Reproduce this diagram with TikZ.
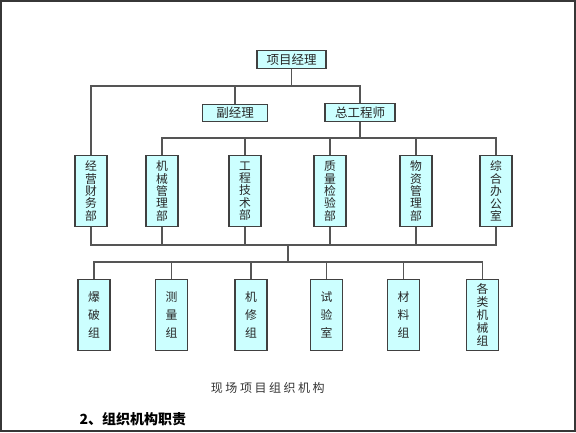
\documentclass[tikz,border=0pt]{standalone}
\usepackage{fontspec}
\setmainfont{Noto Sans CJK SC}
\usepackage{xcolor}
\usetikzlibrary{positioning}
\definecolor{boxfill}{RGB}{204, 255, 255}
\definecolor{boxline}{RGB}{64, 64, 64}
\definecolor{wireline}{RGB}{85, 85, 85}
\definecolor{captext}{RGB}{51, 51, 51}
\definecolor{framecol}{RGB}{55, 55, 55}

\begin{document}
\begin{tikzpicture}[x=1pt, y=-1pt,
  box/.style={draw=boxline, fill=boxfill, line width=1.1pt, inner sep=0pt,
        text=black!85, font=\fontsize{12.5}{12.5}\selectfont},
  hbox/.style={box, minimum height=17.5pt},
  vbox/.style={box, minimum width=32pt, minimum height=71.5pt, text width=12pt,
        align=center, font=\fontsize{11.8}{12.4}\selectfont},
  team/.style={font=\fontsize{11.8}{17.8}\selectfont},
  wire/.style={draw=wireline, line width=1.2pt}]
  \useasboundingbox (0,0) rectangle (576,432);
  \draw[line width=2pt, framecol] (1,1) rectangle (575,431);

  % management
  \node[hbox, minimum width=69pt] (pm) at (291.5,59.5) {项目经理};
  \node[hbox, minimum width=65pt] (dpm) at (235,113) {副经理};
  \node[hbox, minimum width=70pt] (ce) at (360,112.5) {总工程师};

  % departments
  \node[vbox] (jy) at (91,191) {经\\营\\财\\务\\部};
  \node[vbox] (jx) at (162,191) {机\\械\\管\\理\\部};
  \node[vbox] (gc) at (245,191) {工\\程\\技\\术\\部};
  \node[vbox] (zl) at (330,191) {质\\量\\检\\验\\部};
  \node[vbox] (wz) at (416,191) {物\\资\\管\\理\\部};
  \node[vbox] (zh) at (496,191) {综\\合\\办\\公\\室};

  % teams
  \node[vbox, team] (bp) at (94,315) {爆\\破\\组};
  \node[vbox, team] (cl) at (171.5,315) {测\\量\\组};
  \node[vbox, team] (jg) at (251,315) {机\\修\\组};
  \node[vbox, team] (sy) at (326.5,315) {试\\验\\室};
  \node[vbox, team] (cz) at (403.5,315) {材\\料\\组};
  \node[vbox, font=\fontsize{11.8}{13}\selectfont] (gl) at (482.5,315) {各\\类\\机\\械\\组};

  % bus levels
  \coordinate (busA) at (0,86);
  \coordinate (busB) at (0,138);
  \coordinate (busC) at (0,245);
  \coordinate (busD) at (0,262);
  \coordinate (hub) at (288,245);

  \draw[wire] (pm.south) -- (pm.south |- busA);
  \draw[wire] (jy.north) |- (busA -| ce.north) -- (ce.north);
  \draw[wire] (dpm.north) -- (dpm.north |- busA);

  \draw[wire] (ce.south) -- (ce.south |- busB);
  \draw[wire] (jx.north) |- (busB -| zh.north) -- (zh.north);
  \draw[wire] (gc.north) -- (gc.north |- busB);
  \draw[wire] (zl.north) -- (zl.north |- busB);
  \draw[wire] (wz.north) -- (wz.north |- busB);

  \draw[wire] (jy.south) |- (busC -| zh.south) -- (zh.south);
  \draw[wire] (jx.south) -- (jx.south |- busC);
  \draw[wire] (gc.south) -- (gc.south |- busC);
  \draw[wire] (zl.south) -- (zl.south |- busC);
  \draw[wire] (wz.south) -- (wz.south |- busC);
  \draw[wire] (hub) -- (hub |- busD);

  \draw[wire] (bp.north) |- (busD -| gl.north) -- (gl.north);
  \draw[wire] (cl.north) -- (cl.north |- busD);
  \draw[wire] (jg.north) -- (jg.north |- busD);
  \draw[wire] (sy.north) -- (sy.north |- busD);
  \draw[wire] (cz.north) -- (cz.north |- busD);

  % caption
  \node[font=\fontsize{12}{12}\selectfont, text=captext] (cap) at (267.8,388)
    {\addfontfeature{LetterSpace=21}现场项目组织机构};
  \node[anchor=west, font=\fontsize{14}{14}\selectfont\bfseries] (head) at (76,419)
    {2、组织机构职责};
\end{tikzpicture}
\end{document}
